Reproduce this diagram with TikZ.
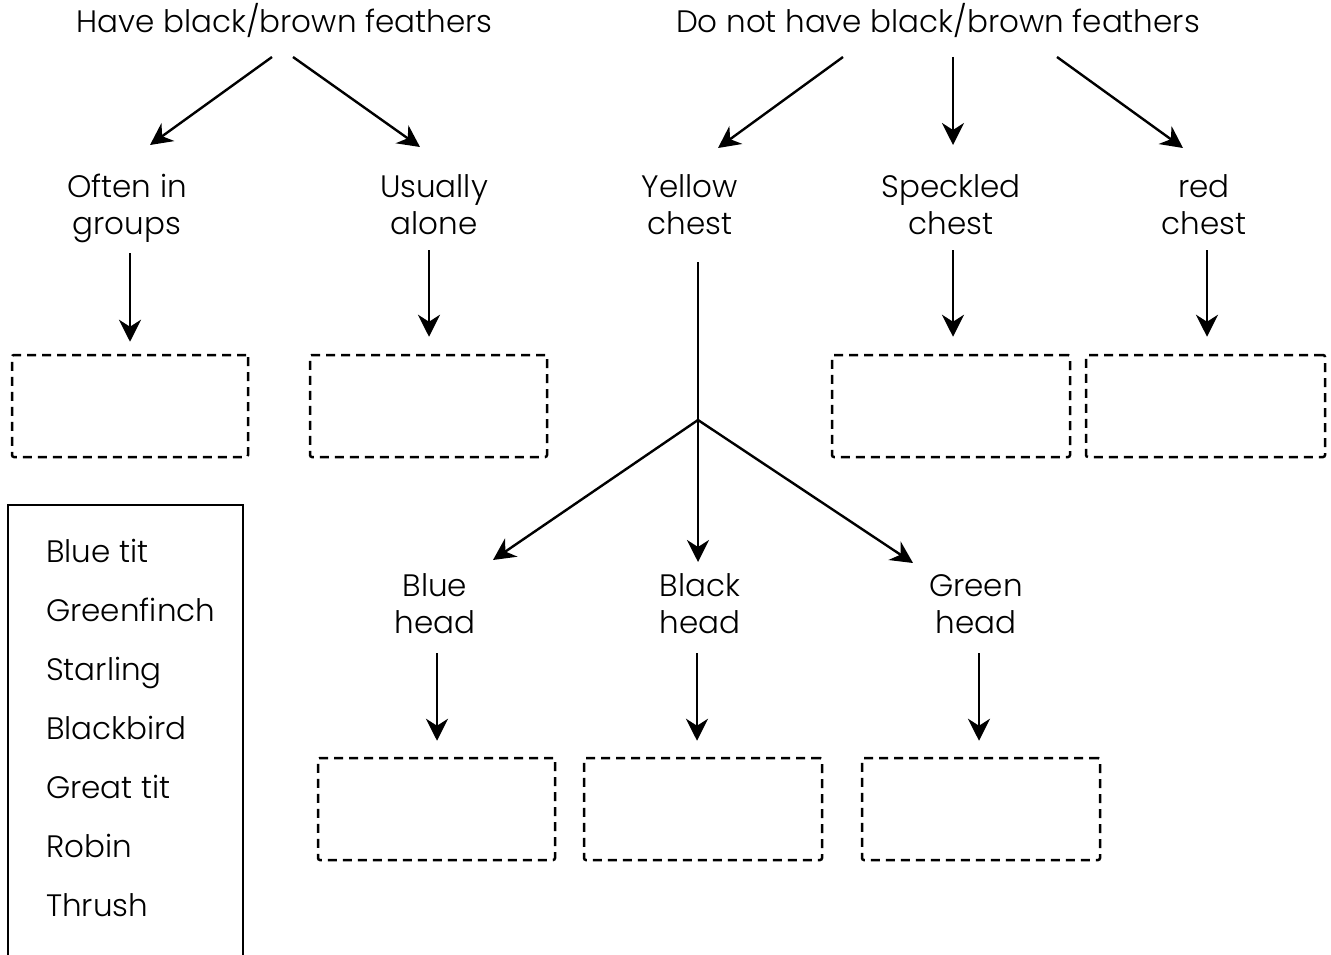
\documentclass[tikz,border=0pt]{standalone}
\usepackage{fontspec}
\setmainfont{Poppins Light}
\usetikzlibrary{arrows.meta,calc}
\newcommand{\tst}{\rule{0pt}{25pt}}
\newcommand{\bst}{\rule[-10pt]{0pt}{10pt}}
\begin{document}
\begin{tikzpicture}[x=1pt,y=-1pt,
  lbl/.style={inner sep=0pt,align=center,font=\fontsize{31}{37}\selectfont},
  item/.style={inner sep=0pt,anchor=base west,font=\fontsize{31}{37}\selectfont},
  arr/.style={line width=2.4pt,-{Stealth[length=22pt,width=22pt,inset=7pt]}},
  ln/.style={line width=2.4pt},
  answer/.style={draw,dashed,line width=2.5pt,dash pattern=on 9pt off 6pt,
    minimum width=236pt,minimum height=102pt,inner sep=0pt,rounded corners=2pt}]
\useasboundingbox (0,0) rectangle (1331,955);
% top labels
\node[lbl,anchor=base] (have) at (284.5,33) {Have black/brown feathers};
\node[lbl,anchor=base] (donot) at (938,33) {Do not have black/brown feathers};
% level 2
\node[lbl,anchor=north] (often) at (127,172) {\tst Often in\\groups\bst};
\node[lbl,anchor=north] (usually) at (434,172) {\tst Usually\\alone\bst};
\node[lbl,anchor=north] (yellow) at (690,172) {\tst Yellow\\chest\bst};
\node[lbl,anchor=north] (speckled) at (951,172) {\tst Speckled\\chest\bst};
\node[lbl,anchor=north] (red) at (1204,172) {\tst red\\chest\bst};
% level 2 boxes
\node[answer] (b1) at (130,406) {};
\node[answer,minimum width=237pt] (b2) at (428.5,406) {};
\node[answer,minimum width=238pt] (b3) at (951,406) {};
\node[answer,minimum width=239pt] (b4) at (1205.5,406) {};
% level 3
\node[lbl,anchor=north] (bluehead) at (435,571) {\tst Blue\\head\bst};
\node[lbl,anchor=north] (blackhead) at (700,571) {\tst Black\\head\bst};
\node[lbl,anchor=north] (greenhead) at (976,571) {\tst Green\\head\bst};
\node[answer,minimum width=237pt] (c1) at (436.5,809) {};
\node[answer,minimum width=238pt] (c2) at (703,809) {};
\node[answer,minimum width=238pt] (c3) at (981,809) {};
% arrows from top
\draw[arr] ($(have.base)+(-12.5,24)$) -- ($(often.north)+(23,-27)$);
\draw[arr] ($(have.base)+(8.5,24)$) -- ($(usually.north)+(-14,-25)$);
\draw[arr] ($(donot.base)+(-95,24)$) -- ($(yellow.north)+(28,-24)$);
\draw[arr] ($(donot.base)+(15,24)$) -- ($(speckled.north)+(2,-27)$);
\draw[arr] ($(donot.base)+(119,24)$) -- ($(red.north)+(-21,-24)$);
% level 2 verticals
\draw[arr,shorten <=9pt,shorten >=12pt] (often.south -| b1.north) -- (b1.north);
\draw[arr,shorten <=6pt,shorten >=17pt] ([xshift=-5pt]usually.south) -- ([xshift=-5pt]usually.south |- b2.north);
\draw[arr,shorten <=6pt,shorten >=17pt] (speckled.south -| 953,0) -- (b3.north -| 953,0);
\draw[arr,shorten <=6pt,shorten >=17pt] (red.south -| 1207,0) -- (b4.north -| 1207,0);
% yellow branch
\coordinate (j) at (698,420);
\draw[ln,shorten <=18pt] (yellow.south -| j) -- (j);
\draw[arr] (j) -- ($(bluehead.north)+(58,-11)$);
\draw[arr,shorten >=9pt] (j) -- (j |- blackhead.north);
\draw[arr] (j) -- ($(greenhead.north)+(-63,-8)$);
% level 3 verticals
\draw[arr,shorten <=10pt,shorten >=16pt] (bluehead.south -| 437,0) -- (c1.north -| 437,0);
\draw[arr,shorten <=10pt,shorten >=16pt] (blackhead.south -| 697,0) -- (c2.north -| 697,0);
\draw[arr,shorten <=10pt,shorten >=16pt] (greenhead.south -| 979,0) -- (c3.north -| 979,0);
% legend
\draw[ln] (8,960) -- (8,505) -- (243,505) -- (243,960);
\node[item] (l1) at (46,562) {Blue tit};
\node[item] (l2) at (46,621) {Greenfinch};
\node[item] (l3) at (46,680) {Starling};
\node[item] (l4) at (46,739) {Blackbird};
\node[item] (l5) at (46,798) {Great tit};
\node[item] (l6) at (46,857) {Robin};
\node[item] (l7) at (46,916) {Thrush};
\end{tikzpicture}
\end{document}
